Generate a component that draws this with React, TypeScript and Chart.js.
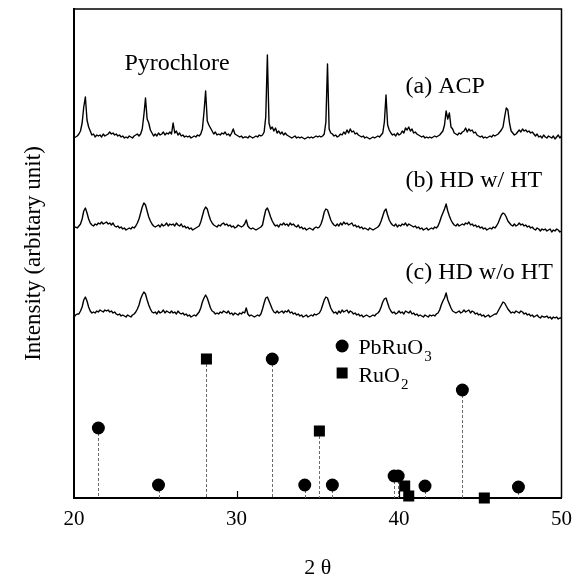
import React, { useEffect, useRef } from "react";
import { Chart, registerables } from "chart.js";

Chart.register(...registerables);

// 2θ sampling grid of the scans (degrees)
const TWO_THETA_START = 20;
const TWO_THETA_STEP = 0.1;

// (a) ACP – intensity above its own background (arb. units), one value per 0.1°
const acp = [
  -1, 0, 1, 3, 6, 14, 30, 40, 17, 10,
  6, 2, 3, 0, 2, 1, 2, 0, 3, 1,
  2, 3, 5, 3, 4, 2, 3, 1, 2, 0,
  1, -1, 0, -1, 1, 0, -1, 1, 2, 3,
  1, 3, 8, 22, 39, 18, 14, 7, 4, 1,
  3, 1, 4, 2, 3, 5, 2, 4, 3, 5,
  3, 14, 4, 6, 2, 4, 1, 2, 0, 1,
  0, 1, -1, 0, 1, 0, 2, 1, 3, 8,
  25, 46, 16, 12, 9, 6, 3, 5, 2, 3,
  2, 4, 3, 5, 2, 3, 1, 4, 8, 3,
  2, 1, 0, 1, -1, 0, 0, -1, 1, 0,
  -1, 0, 1, 0, 2, 1, 2, 5, 20, 82,
  14, 8, 10, 6, 9, 4, 6, 3, 5, 2,
  4, 2, 1, 0, -1, 0, 1, -1, 0, -1,
  0, -1, -2, -1, 0, -1, 0, -1, 0, 1,
  0, 1, 0, 1, 3, 15, 73, 8, 4, 3,
  1, 2, 0, 1, 3, 2, 5, 3, 7, 4,
  8, 5, 6, 3, 4, 2, 1, 0, 1, -1,
  0, -1, -2, -1, 0, -1, 0, 1, 0, 2,
  4, 15, 42, 12, 7, 4, 2, 3, 1, 4,
  2, 3, 6, 4, 9, 7, 10, 6, 8, 4,
  5, 3, 2, 1, 0, 1, -1, 0, -1, 0,
  -1, 0, 1, 0, 1, 2, 4, 6, 12, 26,
  18, 24, 10, 8, 4, 3, 2, 4, 3, 5,
  6, 9, 5, 8, 6, 7, 4, 5, 2, 1,
  0, 1, -1, 0, -1, 0, 1, 0, 2, 1,
  2, 3, 5, 7, 10, 20, 29, 27, 14, 6,
  4, 2, 3, 5, 7, 5, 8, 6, 7, 5,
  6, 4, 5, 3, 1, 3, 0, 1, -1, 2,
  0, -1, 1, 0, -1, 1, -2, 0, 2, -1, 1,
];

// (b) HD w/ HT
const hdWithHT = [
  1, 2, 1, 3, 5, 10, 18, 21, 16, 10,
  6, 4, 3, 5, 4, 6, 5, 7, 5, 6,
  7, 5, 6, 4, 6, 3, 2, 3, 1, 2,
  0, 1, -1, 0, 1, 0, 2, 1, 3, 6,
  10, 16, 22, 26, 24, 18, 12, 8, 5, 3,
  2, 3, 4, 2, 5, 3, 4, 6, 3, 5,
  4, 5, 3, 6, 4, 3, 5, 2, 3, 1,
  2, 0, 1, -1, 0, 1, 2, 3, 7, 13,
  19, 22, 20, 14, 9, 6, 4, 3, 2, 4,
  3, 5, 6, 4, 5, 3, 4, 2, 3, 1,
  2, 4, 3, 2, 3, 5, 9, 3, 1, 0,
  1, 0, -1, 0, 1, 2, 4, 12, 19, 21,
  17, 12, 8, 5, 3, 4, 2, 5, 4, 6,
  4, 5, 3, 6, 4, 5, 3, 2, 4, 1,
  2, 0, 1, -1, 0, 1, 0, -1, 1, 2,
  1, 2, 5, 10, 17, 20, 19, 14, 9, 6,
  4, 3, 5, 3, 6, 4, 7, 5, 6, 4,
  5, 6, 3, 4, 2, 3, 1, 2, 0, 1,
  0, -1, 1, 0, -1, 0, 1, 2, 4, 8,
  13, 18, 20, 14, 9, 6, 4, 3, 5, 2,
  4, 3, 5, 4, 6, 3, 5, 4, 3, 2,
  3, 1, 2, 0, 1, -1, 0, 1, -1, 0,
  1, 0, 2, 1, 3, 7, 12, 16, 20, 25,
  18, 13, 9, 6, 4, 3, 5, 3, 4, 5,
  4, 6, 5, 7, 4, 5, 3, 4, 2, 3,
  1, 2, 0, 1, -1, 0, 1, 0, 2, 1,
  3, 6, 10, 14, 16, 15, 12, 8, 6, 4,
  3, 5, 3, 4, 6, 4, 5, 3, 4, 2,
  3, 1, 2, 0, -1, 1, 0, -2, 0, -1,
  0, -2, -1, 0, -3, -1, -2, 0, -1, -3, -2,
];

// (c) HD w/o HT
const hdWithoutHT = [
  -1, 1, 2, 2, 5, 9, 16, 19, 15, 9,
  5, 3, 4, 3, 5, 4, 6, 5, 4, 6,
  5, 6, 4, 5, 3, 4, 2, 1, 2, 0,
  1, 0, -1, 1, 0, -1, 1, 2, 4, 7,
  11, 17, 21, 24, 22, 16, 11, 7, 4, 3,
  4, 2, 5, 3, 4, 6, 3, 5, 4, 3,
  5, 3, 4, 2, 5, 3, 2, 3, 1, 2,
  0, 1, -1, 0, 1, 0, 2, 4, 8, 14,
  18, 21, 18, 13, 8, 5, 4, 2, 3, 2,
  4, 3, 5, 4, 3, 5, 2, 3, 1, 3,
  2, 1, 3, 2, 4, 3, 8, 2, 0, 1,
  0, -1, 0, 1, 0, 2, 7, 13, 18, 19,
  15, 11, 7, 4, 3, 5, 3, 4, 5, 3,
  5, 4, 6, 3, 4, 2, 3, 1, 2, 0,
  1, -1, 0, 1, -1, 0, 1, 0, 2, 1,
  2, 3, 6, 11, 16, 19, 18, 13, 8, 5,
  3, 4, 2, 5, 3, 6, 4, 5, 6, 3,
  5, 4, 2, 3, 1, 2, 0, 1, -1, 0,
  1, 0, -1, 0, 1, 0, 2, 3, 5, 9,
  14, 17, 18, 13, 8, 5, 3, 4, 2, 3,
  5, 3, 4, 2, 5, 4, 3, 5, 2, 3,
  1, 2, 0, 1, 0, -1, 1, 0, -1, 1,
  0, 1, 0, 2, 3, 6, 11, 15, 18, 23,
  16, 12, 8, 5, 4, 3, 4, 5, 3, 4,
  6, 4, 5, 6, 3, 5, 4, 2, 3, 1,
  2, 0, 1, -1, 0, 1, -1, 0, 1, 2,
  2, 5, 8, 11, 14, 13, 10, 7, 5, 3,
  4, 3, 5, 4, 3, 5, 4, 2, 3, 1,
  2, 0, 1, -1, 0, 1, -1, -2, 0, -1,
  -1, 0, -2, -1, -3, -1, -2, -1, -3, -2, -2,
];

// vertical stacking offsets of the three scans
const traceOffsets = [361, 269, 182];
const traceLabels = ["(a) ACP", "(b) HD w/ HT", "(c) HD w/o HT"];

// reference stick patterns
const pbRuO3Angles = [21.5, 25.2, 32.2, 34.2, 35.9, 39.7, 39.95, 41.6, 43.9, 47.35];
const pbRuO3Heights = [70, 13, 139, 13, 13, 22, 22, 12, 108, 11];
const ruO2Angles = [28.15, 35.1, 40.35, 40.6, 45.25];
const ruO2Heights = [139, 67, 12, 2, 0];

const xTicks = [20, 30, 40, 50];
const X_MIN = 20;
const X_MAX = 50;
const Y_MIN = 0;
const Y_MAX = 489;

const FONT = '"Liberation Serif", "Times New Roman", serif';

function toPoints(values: number[], offset: number) {
  return values.map((v, i) => ({
    x: +(TWO_THETA_START + i * TWO_THETA_STEP).toFixed(2),
    y: v + offset,
  }));
}

const decorPlugin = {
  id: "decor",
  beforeDatasetsDraw(chart: any) {
    const { ctx, chartArea } = chart;
    ctx.save();
    ctx.strokeStyle = "#6a6a6a";
    ctx.lineWidth = 1;
    ctx.setLineDash([3, 2]);
    chart.data.datasets.forEach((ds: any, i: number) => {
      if (!ds.stick) return;
      const meta = chart.getDatasetMeta(i);
      meta.data.forEach((pt: any) => {
        ctx.beginPath();
        ctx.moveTo(Math.round(pt.x) + 0.5, pt.y);
        ctx.lineTo(Math.round(pt.x) + 0.5, chartArea.bottom);
        ctx.stroke();
      });
    });
    ctx.restore();
  },
  afterDatasetsDraw(chart: any) {
    const { ctx, chartArea, scales } = chart;
    const xs = scales.x;
    const ys = scales.y;
    ctx.save();
    // top & right frame
    ctx.strokeStyle = "#000";
    ctx.lineWidth = 1.5;
    ctx.beginPath();
    ctx.moveTo(chartArea.left, chartArea.top);
    ctx.lineTo(chartArea.right, chartArea.top);
    ctx.lineTo(chartArea.right, chartArea.bottom);
    ctx.stroke();
    // inward x ticks
    ctx.lineWidth = 1.2;
    xTicks.slice(1, -1).forEach((t) => {
      const px = Math.round(xs.getPixelForValue(t)) + 0.5;
      ctx.beginPath();
      ctx.moveTo(px, chartArea.bottom);
      ctx.lineTo(px, chartArea.bottom - 7);
      ctx.stroke();
    });
    // annotations
    ctx.fillStyle = "#000";
    ctx.textAlign = "left";
    ctx.textBaseline = "alphabetic";
    ctx.font = `24px ${FONT}`;
    ctx.fillText("Pyrochlore", xs.getPixelForValue(23.1), ys.getPixelForValue(428));
    const labelY = [405, 311, 219];
    traceLabels.forEach((t, i) => {
      ctx.fillText(t, xs.getPixelForValue(40.4), ys.getPixelForValue(labelY[i]));
    });
    // legend
    const lx = xs.getPixelForValue(36.5);
    const tx = xs.getPixelForValue(37.5);
    const y1 = ys.getPixelForValue(152);
    const y2 = ys.getPixelForValue(125);
    ctx.beginPath();
    ctx.arc(lx, y1, 6.5, 0, Math.PI * 2);
    ctx.fill();
    ctx.fillRect(lx - 5.5, y2 - 5.5, 11, 11);
    const drawChem = (base: string, sub: string, x: number, baseline: number) => {
      ctx.font = `22px ${FONT}`;
      ctx.fillText(base, x, baseline);
      const w = ctx.measureText(base).width;
      ctx.font = `15px ${FONT}`;
      ctx.fillText(sub, x + w + 1, baseline + 7);
    };
    drawChem("PbRuO", "3", tx, y1 + 8);
    drawChem("RuO", "2", tx, y2 + 9);
    ctx.restore();
  },
};

export default function App() {
  const canvasRef = useRef<HTMLCanvasElement | null>(null);

  useEffect(() => {
    if (!canvasRef.current) return;
    const traces = [acp, hdWithHT, hdWithoutHT];
    const datasets: any[] = traces.map((vals, i) => ({
      label: traceLabels[i],
      data: toPoints(vals, traceOffsets[i]),
      showLine: true,
      borderColor: "#000",
      borderWidth: 1.4,
      pointRadius: 0,
      tension: 0,
      borderJoinStyle: "round",
    }));
    datasets.push({
      label: "PbRuO3",
      stick: true,
      data: pbRuO3Angles.map((a, i) => ({ x: a, y: pbRuO3Heights[i] })),
      showLine: false,
      pointStyle: "circle",
      pointRadius: 6.5,
      pointBackgroundColor: "#000",
      pointBorderColor: "#000",
      pointBorderWidth: 0,
      clip: false,
    });
    datasets.push({
      label: "RuO2",
      stick: true,
      data: ruO2Angles.map((a, i) => ({ x: a, y: ruO2Heights[i] })),
      showLine: false,
      pointStyle: "rect",
      pointRadius: 7.8,
      pointBackgroundColor: "#000",
      pointBorderColor: "#000",
      pointBorderWidth: 0,
      clip: false,
    });

    const chart = new Chart(canvasRef.current, {
      type: "scatter",
      data: { datasets },
      plugins: [decorPlugin],
      options: {
        animation: false,
        responsive: false,
        maintainAspectRatio: false,
        events: [],
        layout: { padding: { left: 0, right: 14, top: 9, bottom: 0 } },
        plugins: { legend: { display: false }, tooltip: { enabled: false } },
        scales: {
          x: {
            type: "linear",
            min: X_MIN,
            max: X_MAX,
            afterFit: (s: any) => {
              s.height = 83;
            },
            afterBuildTicks: (s: any) => {
              s.ticks = xTicks.map((v) => ({ value: v }));
            },
            grid: { display: false, drawTicks: false },
            border: { display: true, color: "#000", width: 2 },
            ticks: {
              color: "#000",
              font: { family: FONT, size: 21 },
              padding: 9,
              autoSkip: false,
              maxRotation: 0,
            },
            title: {
              display: true,
              text: "2 θ",
              color: "#000",
              font: { family: FONT, size: 22 },
              padding: { top: 0, bottom: 0 },
            },
          },
          y: {
            type: "linear",
            min: Y_MIN,
            max: Y_MAX,
            afterFit: (s: any) => {
              s.width = 74;
            },
            grid: { display: false, drawTicks: false },
            border: { display: true, color: "#000", width: 2 },
            ticks: { display: false },
            title: {
              display: true,
              text: "Intensity (arbitary unit)",
              color: "#000",
              font: { family: FONT, size: 23 },
              padding: { top: 20, bottom: 0 },
            },
          },
        },
      } as any,
    });
    return () => chart.destroy();
  }, []);

  return (
    <div style={{ position: "absolute", left: 0, top: 0, width: 581, height: 581, background: "#fff" }}>
      <canvas ref={canvasRef} width={581} height={581} style={{ display: "block" }} />
    </div>
  );
}
